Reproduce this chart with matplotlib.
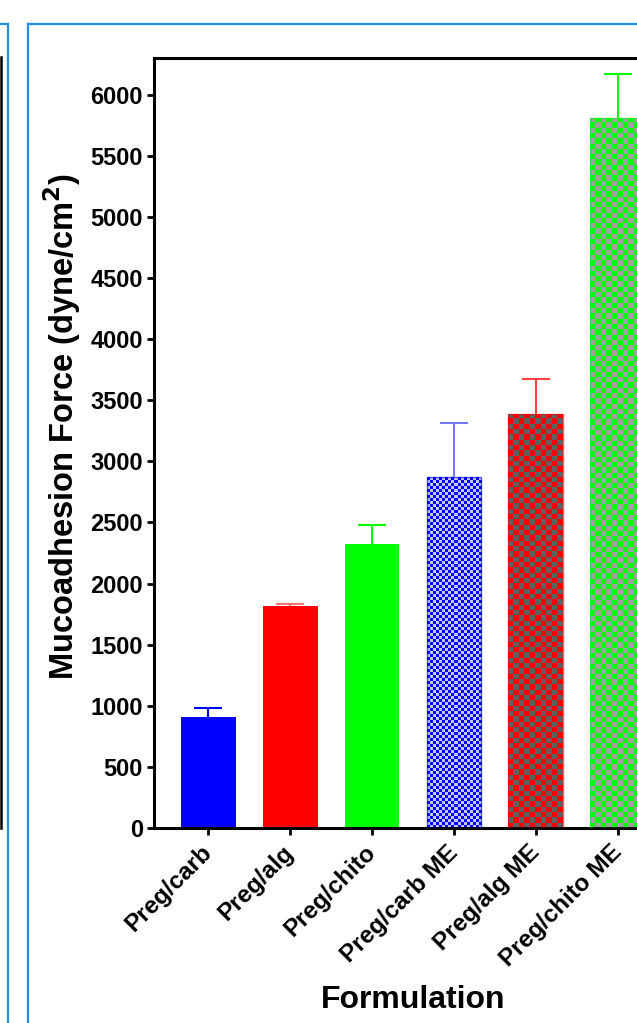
import numpy as np
import matplotlib

matplotlib.use("Agg")
import matplotlib.pyplot as plt
from matplotlib.lines import Line2D
from matplotlib.patches import Rectangle

plt.rcParams["font.family"] = ["Liberation Sans", "DejaVu Sans"]
plt.rcParams["font.weight"] = "bold"

formulations = ["Preg/carb", "Preg/alg", "Preg/chito",
                "Preg/carb ME", "Preg/alg ME", "Preg/chito ME"]
force = [910, 1820, 2320, 2870, 3390, 5810]
force_sd = [75, 15, 160, 440, 280, 360]

FACE = ["#0000ff", "#ff0000", "#00ff00", "#0000ff", "#ff0000", "#00ff00"]
ERR_COLOR = ["#0000ff", "#ff7070", "#00ff00", "#7777ff", "#ff4040", "#00ff00"]
# checker fill for the ME bars: (second colour, square size in px)
CHECKER = {3: ("#c4c4ee", 3.0), 4: ("#606060", 5.3), 5: ("#a0a0a0", 5.3)}
FRAME = "#1e8ff0"

W, H = 637, 1023
fig = plt.figure(figsize=(W / 100, H / 100), dpi=100)
ax = fig.add_axes([154 / W, (H - 828) / H, 518 / W, 770 / H])

x = np.arange(len(formulations))
width = 0.67
xlim = (-0.66, 5.66)
ylim = (0, 6300)

bars = ax.bar(x, force, width=width, color=FACE, edgecolor="none", zorder=2)

# px per data unit, used to size the checker squares and caps
px_x = 518 / (xlim[1] - xlim[0])
px_y = 770 / (ylim[1] - ylim[0])

for i, (second, sq) in CHECKER.items():
    nx = max(1, int(round(width * px_x / sq)))
    ny = max(1, int(round(force[i] * px_y / sq)))
    jj, ii = np.indices((ny, nx))
    c1 = np.array(matplotlib.colors.to_rgb(FACE[i]))
    c2 = np.array(matplotlib.colors.to_rgb(second))
    img = np.where(((ii + jj) % 2 == 0)[..., None], c1, c2)
    x0 = x[i] - width / 2
    im = ax.imshow(img, extent=(x0, x0 + width, 0, force[i]), origin="lower",
                   interpolation="nearest", aspect="auto", zorder=2.5)
    im.set_clip_path(Rectangle((x0, 0), width, force[i], transform=ax.transData))
    ax.add_patch(Rectangle((x0, 0), width, force[i], fill=False,
                           edgecolor=FACE[i], lw=1.0, alpha=0.6, zorder=2.6))

# upper-only error bars with a cap
cap = 14 / px_x
for i in range(len(x)):
    top = force[i] + force_sd[i]
    ax.plot([x[i], x[i]], [force[i], top], color=ERR_COLOR[i], lw=1.5,
            zorder=3, solid_capstyle="butt")
    ax.plot([x[i] - cap, x[i] + cap], [top, top], color=ERR_COLOR[i], lw=1.5,
            zorder=3, solid_capstyle="butt")

ax.set_xlim(xlim)
ax.set_ylim(ylim)
ax.set_yticks(np.arange(0, 6001, 500))
ax.set_xticks(x)
ax.set_xticklabels(formulations, rotation=45, ha="right", va="center",
                   rotation_mode="anchor", fontsize=17.5, fontweight="bold")
ax.tick_params(axis="y", labelsize=17, width=2, length=5, direction="out", pad=3)
ax.tick_params(axis="x", width=2, length=5, direction="out", pad=10)
for lab in ax.get_yticklabels():
    lab.set_fontweight("bold")
for spine in ax.spines.values():
    spine.set_linewidth(2.2)

ax.set_ylabel("Mucoadhesion Force (dyne/cm$^\\mathbf{2}$)", fontsize=23.5,
              fontweight="bold", va="center")
ax.yaxis.set_label_coords((62 - 154) / 518, (828 - 426) / 770)
ax.set_xlabel("Formulation", fontsize=23, fontweight="bold", va="center")
ax.xaxis.set_label_coords((413 - 154) / 518, (828 - 1000) / 770)

# panel frames and the neighbouring panel's edge
def fig_line(xs, ys, color, lw):
    fig.add_artist(Line2D([v / W for v in xs], [1 - v / H for v in ys],
                          transform=fig.transFigure, color=color, lw=lw))

fig_line([0, 7.5], [23.5, 23.5], FRAME, 1.6)
fig_line([7.5, 7.5], [23.5, H], FRAME, 1.6)
fig_line([27.5, W], [23.5, 23.5], FRAME, 1.6)
fig_line([27.5, 27.5], [23.5, H], FRAME, 1.6)
fig_line([0.5, 0.5], [57, 828], "black", 1.8)

fig.savefig("out.png", dpi=100)
